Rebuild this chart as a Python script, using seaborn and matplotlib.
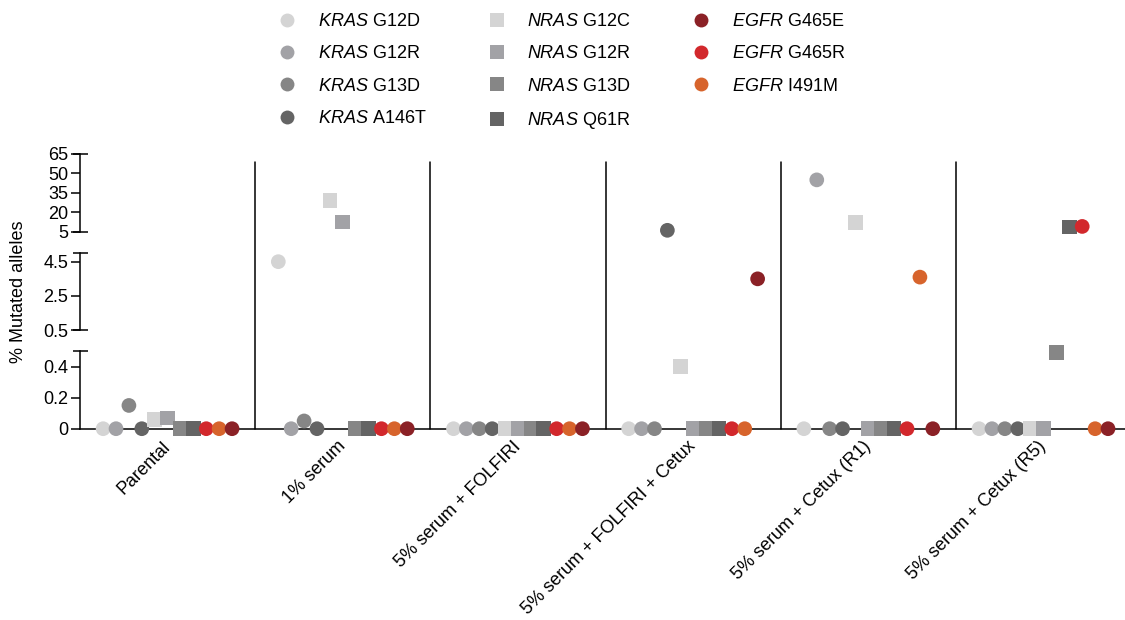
import numpy as np
import pandas as pd
import matplotlib
matplotlib.use("Agg")
import matplotlib.pyplot as plt
from matplotlib.lines import Line2D
import seaborn as sns

# ---- data -------------------------------------------------------------
conditions = [
    "Parental",
    "1% serum",
    "5% serum + FOLFIRI",
    "5% serum + FOLFIRI + Cetux",
    "5% serum + Cetux (R1)",
    "5% serum + Cetux (R5)",
]

# order of the markers inside every condition (left to right)
mutations = [
    "KRAS G12D", "KRAS G12R", "KRAS G13D", "KRAS A146T",
    "NRAS G12C", "NRAS G12R", "NRAS G13D", "NRAS Q61R",
    "EGFR G465R", "EGFR I491M", "EGFR G465E",
]

# % mutated alleles, one list per condition, in the order above
parental = [0, 0, 0.15, 0, 0.06, 0.07, 0, 0, 0, 0, 0]
serum_1 = [4.5, 0, 0.05, 0, 29, 12.5, 0, 0, 0, 0, 0]
folfiri = [0, 0, 0, 0, 0, 0, 0, 0, 0, 0, 0]
folfiri_cetux = [0, 0, 0, 6, 0.4, 0, 0, 0, 0, 0, 3.5]
cetux_r1 = [0, 45, 0, 0, 12, 0, 0, 0, 0, 3.6, 0]
cetux_r5 = [0, 0, 0, 0, 0, 0, 0.49, 8.5, 9, 0, 0]

colors = {
    "KRAS G12D": "#d4d4d4", "KRAS G12R": "#a2a2a6",
    "KRAS G13D": "#868686", "KRAS A146T": "#646464",
    "NRAS G12C": "#d4d4d4", "NRAS G12R": "#a2a2a6",
    "NRAS G13D": "#868686", "NRAS Q61R": "#646464",
    "EGFR G465E": "#8b2126", "EGFR G465R": "#d2282c",
    "EGFR I491M": "#d7642c",
}
markers = {m: ("s" if m.startswith("NRAS") else "o") for m in mutations}

legend_order = [
    "KRAS G12D", "KRAS G12R", "KRAS G13D", "KRAS A146T",
    "NRAS G12C", "NRAS G12R", "NRAS G13D", "NRAS Q61R",
    "EGFR G465E", "EGFR G465R", "EGFR I491M",
]

# broken y axis: (low, high, ticks)
segments = [
    (5, 65, [5, 20, 35, 50, 65]),
    (0.5, 5.0, [0.5, 2.5, 4.5]),
    (0, 0.5, [0, 0.2, 0.4]),
]

# ---- long table -------------------------------------------------------
all_values = [parental, serum_1, folfiri, folfiri_cetux, cetux_r1, cetux_r5]
rows = []
for g, vals in enumerate(all_values):
    for i, (mut, v) in enumerate(zip(mutations, vals)):
        rows.append({"condition": conditions[g], "mutation": mut,
                     "slot": i, "group": g, "value": v})
df = pd.DataFrame(rows)
slot_step = 0.0736
df["x"] = df["group"] + (df["slot"] - 5) * slot_step

# ---- style ------------------------------------------------------------
sns.set_style("ticks")
plt.rcParams["font.family"] = ["Liberation Sans", "DejaVu Sans"]
plt.rcParams["mathtext.fontset"] = "custom"
plt.rcParams["mathtext.rm"] = "Liberation Sans"
plt.rcParams["mathtext.it"] = "Liberation Sans:italic"
plt.rcParams["font.size"] = 13
plt.rcParams["text.color"] = "black"
plt.rcParams["axes.labelcolor"] = "black"
plt.rcParams["xtick.color"] = "black"
plt.rcParams["ytick.color"] = "black"
plt.rcParams["axes.edgecolor"] = "black"
lw = 1.1

W, H = 1125, 620
fig = plt.figure(figsize=(W / 100, H / 100), dpi=100)

# pixel extents of each segment (top, bottom)
seg_px = [(154.0, 231.6), (253.1, 330.3), (351.2, 428.7)]
left_px, right_px = 80, 1125
axes = []
for (lo, hi, ticks), (ytop, ybot) in zip(segments, seg_px):
    ax = fig.add_axes([left_px / W, 1 - ybot / H,
                       (right_px - left_px) / W, (ybot - ytop) / H])
    ax.set_ylim(lo, hi)
    ax.set_xlim(-0.5, 5.465)
    for s in ["top", "right", "bottom"]:
        ax.spines[s].set_visible(False)
    ax.spines["left"].set_linewidth(lw)
    ax.set_yticks(ticks)
    ax.set_yticklabels([f"{t:g}" for t in ticks])
    ax.tick_params(axis="y", left=True, direction="out", length=6.5,
                   width=lw, pad=2, labelsize=13, colors="black")
    # caps at the ends of each broken segment
    caps = [lo, hi] if lo > 0 else [hi]
    ax.yaxis.remove_overlapping_locs = False
    ax.set_yticks(caps, minor=True)
    ax.tick_params(axis="y", which="minor", left=True, direction="inout",
                   length=10.8, width=lw, colors="black")
    ax.set_facecolor("none")

    sub = df[(df["value"] >= lo) & (df["value"] <= hi)]
    if lo > 0:
        sub = df[(df["value"] > lo) & (df["value"] <= hi)]
    sns.scatterplot(data=sub, x="x", y="value", hue="mutation",
                    style="mutation", palette=colors, markers=markers,
                    s=112, linewidth=0, legend=False, ax=ax,
                    clip_on=False, zorder=3)
    ax.set_xlabel("")
    ax.set_ylabel("")
    axes.append(ax)

ax_top, ax_mid, ax_bot = axes
for ax in (ax_top, ax_mid):
    ax.set_xticks([])

ax_bot.spines["bottom"].set_visible(True)
ax_bot.spines["bottom"].set_linewidth(lw)
ax_bot.set_xticks(range(len(conditions)))
ax_bot.set_xticklabels(conditions, rotation=45, ha="right",
                       rotation_mode="anchor", va="center", fontsize=13)
ax_bot.tick_params(axis="x", bottom=False, length=0, pad=11)

# separators between conditions, running through all segments
ymax = (428.7 - 162) / (428.7 - 351.2)
for xs in np.arange(0.5, len(conditions) - 0.5, 1.0):
    ax_bot.axvline(xs, ymin=0, ymax=ymax, color="black", lw=lw,
                   clip_on=False, zorder=1)

fig.text(19 / W, 1 - 292 / H, "% Mutated alleles", rotation=90,
         ha="center", va="center", fontsize=13)

# ---- legend -------------------------------------------------------------
handles = []
labels = []
for m in legend_order:
    gene, var = m.split(" ")
    handles.append(Line2D([], [], linestyle="none", marker=markers[m],
                          markersize=10, markerfacecolor=colors[m],
                          markeredgewidth=0))
    labels.append(rf"$\it{{{gene}}}$ {var}")
fig.legend(handles, labels, ncol=3, loc="upper left",
           bbox_to_anchor=(269 / W, 1 - 13 / H), frameon=False,
           borderpad=0, borderaxespad=0, handletextpad=0.7,
           columnspacing=2.9, labelspacing=0.85, fontsize=13)

fig.savefig("out.png", dpi=100)
